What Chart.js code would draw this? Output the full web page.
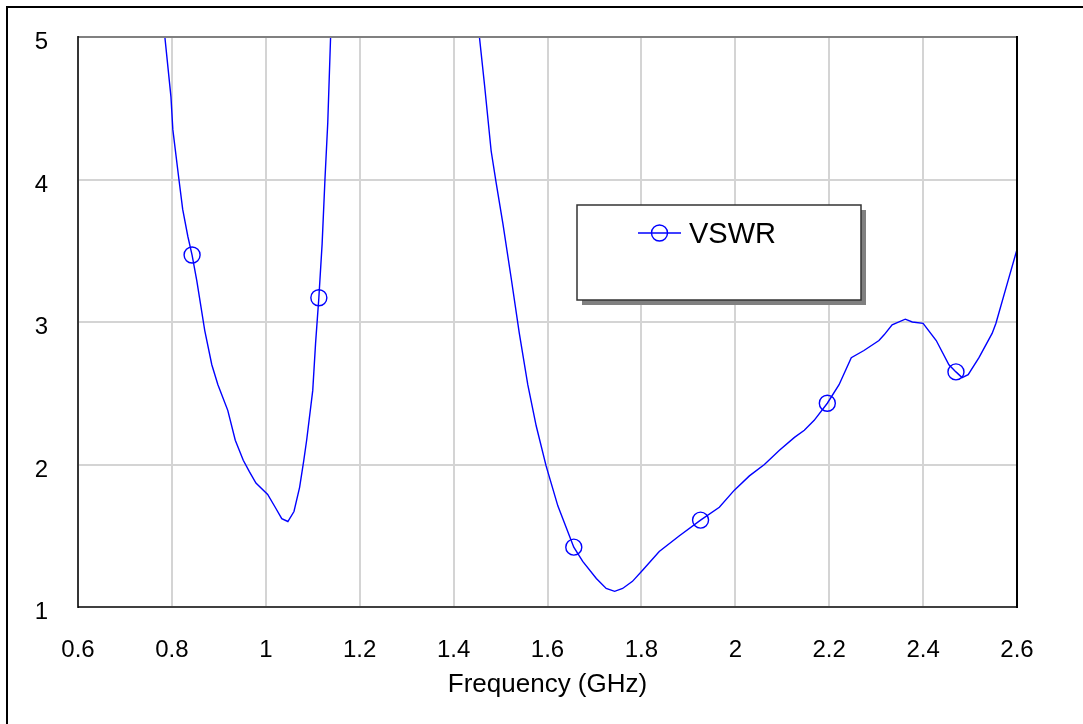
<!DOCTYPE html>
<html>
<head>
<meta charset="utf-8">
<script src="https://cdn.jsdelivr.net/npm/chart.js@4/dist/chart.umd.min.js"></script>
<style>
html,body{margin:0;padding:0;background:#fff;}
canvas{display:block;}
</style>
</head>
<body>
<canvas id="c" width="1083" height="724"></canvas>
<script>
// ---- data ----
const seriesName = 'VSWR';
const xTitle = 'Frequency (GHz)';
const freq = [
  0.785, 0.798, 0.802, 0.815, 0.823, 0.834, 0.843, 0.853, 0.870, 0.885,
  0.898, 0.919, 0.935, 0.952, 0.965, 0.979, 1.004, 1.020, 1.034, 1.047,
  1.060, 1.072, 1.081, 1.087, 1.100, 1.106, 1.113, 1.120, 1.126, 1.132,
  1.138, 1.300,
  1.455, 1.466, 1.480, 1.491, 1.505, 1.523, 1.540, 1.558, 1.576, 1.597,
  1.622, 1.656, 1.675, 1.704, 1.725, 1.743, 1.760, 1.781, 1.803, 1.838,
  1.881, 1.926, 1.966, 1.998, 2.030, 2.062, 2.094, 2.126, 2.147, 2.168,
  2.196, 2.221, 2.247, 2.274, 2.306, 2.317, 2.334, 2.362, 2.377, 2.400,
  2.428, 2.455, 2.470, 2.483, 2.496, 2.519, 2.547, 2.555, 2.581, 2.600
];
const vswr = [
  5.00, 4.58, 4.35, 4.00, 3.79, 3.60, 3.47, 3.29, 2.94, 2.70,
  2.56, 2.38, 2.17, 2.03, 1.95, 1.87, 1.79, 1.70, 1.62, 1.60,
  1.67, 1.84, 2.03, 2.17, 2.52, 2.85, 3.17, 3.55, 4.00, 4.40,
  5.00, null,
  5.00, 4.66, 4.20, 3.97, 3.69, 3.30, 2.92, 2.56, 2.27, 1.99,
  1.71, 1.42, 1.32, 1.20, 1.13, 1.11, 1.13, 1.18, 1.26, 1.39,
  1.50, 1.61, 1.70, 1.82, 1.92, 2.00, 2.10, 2.19, 2.24, 2.31,
  2.43, 2.56, 2.75, 2.80, 2.87, 2.91, 2.98, 3.02, 3.00, 2.99,
  2.87, 2.70, 2.65, 2.61, 2.63, 2.75, 2.92, 2.99, 3.29, 3.51
];
const markerFreqs = [0.843, 1.113, 1.656, 1.926, 2.196, 2.470];
const xTicks = [0.6, 0.8, 1.0, 1.2, 1.4, 1.6, 1.8, 2.0, 2.2, 2.4, 2.6];
const xTickLabels = ['0.6','0.8','1','1.2','1.4','1.6','1.8','2','2.2','2.4','2.6'];
const yTicks = [1, 2, 3, 4, 5];
const yTickLabels = ['1','2','3','4','5'];

// ---- chart ----
const FONT = '"Liberation Sans", Arial, sans-serif';
const BLUE = '#0000ff';
const points = freq.map((f, i) => ({x: f, y: vswr[i]}));

const framePlugin = {
  id: 'frame',
  beforeDraw(chart) {
    const ctx = chart.ctx;
    ctx.save();
    ctx.fillStyle = '#ffffff';
    ctx.fillRect(0, 0, chart.width, chart.height);
    ctx.restore();
  },
  afterDraw(chart) {
    const ctx = chart.ctx;
    const a = chart.chartArea;
    ctx.save();
    // outer frame (top & left visible)
    ctx.strokeStyle = '#000';
    ctx.lineWidth = 2;
    ctx.beginPath();
    ctx.moveTo(7, chart.height + 5);
    ctx.lineTo(7, 7);
    ctx.lineTo(chart.width + 5, 7);
    ctx.stroke();
    // plot borders
    ctx.lineWidth = 2;
    ctx.strokeStyle = '#808080';
    ctx.beginPath(); ctx.moveTo(a.left, a.top); ctx.lineTo(a.right, a.top); ctx.stroke();
    ctx.strokeStyle = '#404040';
    ctx.beginPath(); ctx.moveTo(a.left, a.bottom); ctx.lineTo(a.right + 1, a.bottom); ctx.stroke();
    ctx.strokeStyle = '#000';
    ctx.beginPath(); ctx.moveTo(a.right, a.top - 1); ctx.lineTo(a.right, a.bottom + 1); ctx.stroke();
    ctx.lineWidth = 1.5;
    ctx.beginPath(); ctx.moveTo(a.left, a.top - 1); ctx.lineTo(a.left, a.bottom + 1); ctx.stroke();

    // legend box with shadow
    const bx = 577, by = 205, bw = 284, bh = 95;
    ctx.fillStyle = '#808080';
    ctx.fillRect(bx + 5, by + 5, bw, bh);
    ctx.fillStyle = '#ffffff';
    ctx.fillRect(bx, by, bw, bh);
    ctx.strokeStyle = '#333';
    ctx.lineWidth = 1.5;
    ctx.strokeRect(bx, by, bw, bh);
    // legend sample
    ctx.strokeStyle = BLUE;
    ctx.lineWidth = 1.4;
    ctx.beginPath(); ctx.moveTo(638, 233); ctx.lineTo(681, 233); ctx.stroke();
    ctx.beginPath(); ctx.arc(659.5, 233, 8, 0, Math.PI * 2); ctx.stroke();
    ctx.fillStyle = '#000';
    ctx.font = '29px ' + FONT;
    ctx.textBaseline = 'alphabetic';
    ctx.textAlign = 'left';
    ctx.fillText(seriesName, 689, 243);
    ctx.restore();
  }
};

new Chart(document.getElementById('c'), {
  type: 'line',
  data: {
    datasets: [{
      label: seriesName,
      data: points,
      borderColor: BLUE,
      borderWidth: 1.4,
      backgroundColor: 'rgba(0,0,0,0)',
      pointBorderColor: BLUE,
      pointBackgroundColor: 'rgba(0,0,0,0)',
      pointBorderWidth: 1.4,
      pointRadius: (c) => markerFreqs.includes(freq[c.dataIndex]) ? 8 : 0,
      pointHoverRadius: 0,
      tension: 0,
      spanGaps: false,
      fill: false
    }]
  },
  options: {
    responsive: false,
    animation: false,
    events: [],
    layout: { padding: { left: 0, top: 37, right: 66, bottom: 0 } },
    plugins: { legend: { display: false }, tooltip: { enabled: false } },
    scales: {
      x: {
        type: 'linear',
        min: 0.6, max: 2.6,
        afterBuildTicks: (s) => { s.ticks = xTicks.map(v => ({value: v})); },
        afterFit: (s) => { s.height = 117; s.paddingLeft = 0; s.paddingRight = 0; },
        grid: { color: '#d4d4d4', lineWidth: 2, drawTicks: false },
        border: { display: false },
        ticks: {
          padding: 29,
          maxRotation: 0,
          autoSkip: false,
          color: '#000',
          font: { family: FONT, size: 24 },
          callback: (v, i) => xTickLabels[i]
        },
        title: {
          display: true,
          text: xTitle,
          color: '#000',
          font: { family: FONT, size: 26 },
          padding: { top: 0, bottom: 24 }
        }
      },
      y: {
        type: 'linear',
        min: 1, max: 5,
        afterBuildTicks: (s) => { s.ticks = yTicks.map(v => ({value: v})); },
        afterFit: (s) => { s.width = 78; s.paddingTop = 0; s.paddingBottom = 0; },
        grid: { color: '#d4d4d4', lineWidth: 2, drawTicks: false },
        border: { display: false },
        ticks: {
          padding: 30,
          labelOffset: 5.5,
          color: '#000',
          font: { family: FONT, size: 24 },
          callback: (v, i) => yTickLabels[i]
        }
      }
    }
  },
  plugins: [framePlugin]
});
</script>
</body>
</html>
